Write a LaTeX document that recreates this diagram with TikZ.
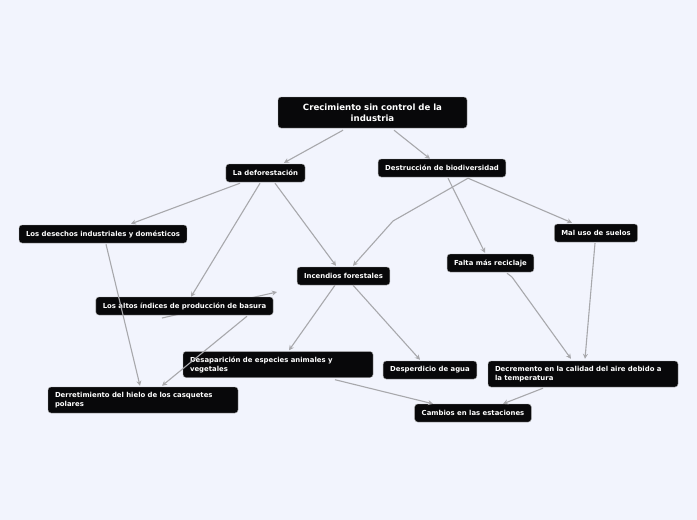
\documentclass[tikz,border=0pt]{standalone}
\usepackage{fontspec}
\setmainfont{DejaVu Sans}
\definecolor{bgcol}{HTML}{F2F4FD}
\definecolor{linecol}{HTML}{A8A8AC}
\definecolor{boxcol}{HTML}{08080A}
\usetikzlibrary{arrows.meta}
\tikzset{
  topic/.style={draw=gray!70, fill=boxcol, rounded corners=3pt, text=white,
    font=\fontsize{6.9}{9}\selectfont\bfseries, inner xsep=7pt, inner ysep=0pt,
    minimum height=18pt},
  widetopic/.style={topic, text width=176pt, align=left, minimum height=26pt},
  maintopic/.style={topic, text width=175pt, align=center, minimum height=31pt,
    font=\fontsize{8.6}{11}\selectfont\bfseries},
  link/.style={draw=linecol, line width=1.1pt, -{Stealth[length=5pt,width=5pt]}}
}
\begin{document}
\begin{tikzpicture}[x=1pt,y=-1pt]
\fill[bgcol] (0,0) rectangle (697,520);
\useasboundingbox (0,0) rectangle (697,520);
% stray connector behind the basura node
\coordinate (s1) at (162,318);
\coordinate (s2) at (277,292);
\draw[link] (s1) -- (s2);
\node[maintopic] (A) at (372.5,112.5) {Crecimiento sin control de la\\ industria};
\node[topic] (B) at (265.5,173) {La deforestación};
\node[topic] (C) at (442,168) {Destrucción de biodiversidad};
\node[topic] (D) at (103,234) {Los desechos industriales y domésticos};
\node[topic] (E) at (596,233) {Mal uso de suelos};
\node[topic] (F) at (343.5,276) {Incendios forestales};
\node[topic] (G) at (490.5,263) {Falta más reciclaje};
\node[topic] (H) at (184.5,306) {Los altos índices de producción de basura};
\node[widetopic] (I) at (278,364.5) {Desaparición de especies animales y\\ vegetales};
\node[topic] (J) at (430,370) {Desperdicio de agua};
\node[widetopic] (K) at (583,374) {Decremento en la calidad del aire debido a\\ la temperatura};
\node[widetopic] (L) at (143,400) {Derretimiento del hielo de los casquetes\\ polares};
\node[topic] (M) at (473,413) {Cambios en las estaciones};
% connectors
\draw[link] ([xshift=-29.5pt,yshift=-2pt]A.south) -- ([xshift=18.5pt,yshift=1pt]B.north);
\draw[link] ([xshift=21.5pt,yshift=-2pt]A.south) -- ([xshift=-12pt]C.north);
\draw[link] ([xshift=-25.5pt,yshift=-1pt]B.south) -- ([xshift=28pt,yshift=1pt]D.north);
\draw[link] ([xshift=-5.5pt,yshift=-1pt]B.south) -- ([xshift=6.5pt]H.north);
\draw[link] ([xshift=9.5pt,yshift=-1pt]B.south) -- ([xshift=-7.5pt,yshift=1pt]F.north);
\draw[link] ([xshift=26pt,yshift=-1pt]C.south) -- (393,221) -- ([xshift=9.5pt,yshift=1pt]F.north);
\draw[link] ([xshift=6pt,yshift=-1pt]C.south) -- ([xshift=-5.5pt,yshift=1pt]G.north);
\draw[link] ([xshift=26pt,yshift=-1pt]C.south) -- ([xshift=-24pt,yshift=1pt]E.north);
\draw[link] ([xshift=3pt,yshift=-1pt]D.south) -- ([xshift=-3pt,yshift=1pt]L.north);
\draw[link] ([xshift=62.5pt,yshift=-1pt]H.south) -- ([xshift=19pt,yshift=1pt]L.north);
\draw[link] ([xshift=-8.5pt]F.south) -- ([xshift=11pt,yshift=1pt]I.north);
\draw[link] ([xshift=9.5pt]F.south) -- ([xshift=-10pt,yshift=1pt]J.north);
\draw[link] ([xshift=57pt,yshift=-2pt]I.south) -- ([xshift=-40pt]M.north);
\draw[link] ([xshift=-40pt,yshift=-1pt]K.south) -- ([xshift=30pt]M.north);
\draw[link] ([xshift=16.5pt,yshift=-1pt]G.south) -- (512,277) -- ([xshift=-12pt,yshift=2pt]K.north);
\draw[link] ([xshift=-1pt,yshift=-1pt]E.south) -- ([xshift=2pt,yshift=2pt]K.north);
\end{tikzpicture}
\end{document}
